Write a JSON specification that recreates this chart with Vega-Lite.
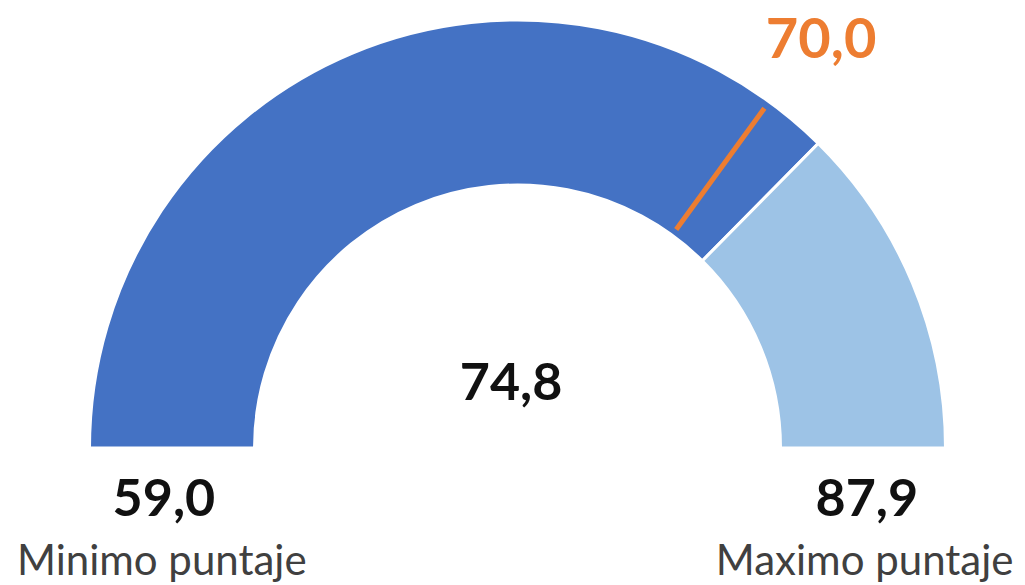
{
  "$schema": "https://vega.github.io/schema/vega-lite/v6.json",
  "width": 1015,
  "height": 274,
  "padding": {"left": 10, "top": 311, "right": 0, "bottom": 0},
  "autosize": {"type": "none"},
  "background": "white",
  "config": {"view": {"stroke": null}},
  "datasets": {
    "segmentos": [
      {"seg": "valor", "inicio": 0, "fin": 74.8},
      {"seg": "resto", "inicio": 74.8, "fin": 100}
    ],
    "meta": [{"v": 70}],
    "textos": [
      {"label": "70,0", "x": 0.711, "y": 0.913, "tipo": "meta"},
      {"label": "74,8", "x": -0.015, "y": 0.112, "tipo": "valor"},
      {"label": "59,0", "x": -0.828, "y": -0.159, "tipo": "valor"},
      {"label": "87,9", "x": 0.818, "y": -0.159, "tipo": "valor"},
      {"label": "Minimo puntaje", "x": -0.833, "y": -0.298, "tipo": "etiqueta"},
      {"label": "Maximo puntaje", "x": 0.813, "y": -0.298, "tipo": "etiqueta"}
    ]
  },
  "layer": [
    {
      "data": {"name": "segmentos"},
      "mark": {"type": "arc", "radius": 428, "radius2": 263, "stroke": "white", "strokeWidth": 3},
      "encoding": {
        "theta": {"field": "inicio", "type": "quantitative", "stack": null, "scale": {"domain": [0, 100], "range": [-1.5708, 1.5708]}},
        "theta2": {"field": "fin"},
        "color": {"field": "seg", "type": "nominal", "scale": {"domain": ["valor", "resto"], "range": ["#4472C4", "#9DC3E6"]}, "legend": null}
      }
    },
    {
      "data": {"name": "meta"},
      "mark": {"type": "arc", "radius": 420, "radius2": 270, "stroke": "#ED7D31", "strokeWidth": 5, "fill": "#ED7D31"},
      "encoding": {
        "theta": {"field": "v", "type": "quantitative", "stack": null, "scale": {"domain": [0, 100], "range": [-1.5708, 1.5708]}},
        "theta2": {"field": "v"}
      }
    },
    {
      "data": {"name": "textos"},
      "transform": [{"filter": "datum.tipo === 'meta'"}],
      "mark": {"type": "text", "font": "Lato", "fontWeight": "bold", "fontSize": 56, "color": "#ED7D31", "baseline": "alphabetic", "align": "center"},
      "encoding": {
        "x": {"field": "x", "type": "quantitative", "scale": {"domain": [-1.1885, 1.1885]}, "axis": null},
        "y": {"field": "y", "type": "quantitative", "scale": {"domain": [-0.3208, 0.3208]}, "axis": null},
        "text": {"field": "label"}
      }
    },
    {
      "data": {"name": "textos"},
      "transform": [{"filter": "datum.tipo === 'valor'"}],
      "mark": {"type": "text", "font": "Lato", "fontWeight": "bold", "fontSize": 52, "color": "#111111", "baseline": "alphabetic", "align": "center"},
      "encoding": {
        "x": {"field": "x", "type": "quantitative", "scale": {"domain": [-1.1885, 1.1885]}, "axis": null},
        "y": {"field": "y", "type": "quantitative", "scale": {"domain": [-0.3208, 0.3208]}, "axis": null},
        "text": {"field": "label"}
      }
    },
    {
      "data": {"name": "textos"},
      "transform": [{"filter": "datum.tipo === 'etiqueta'"}],
      "mark": {"type": "text", "font": "Lato", "fontSize": 42, "color": "#404040", "baseline": "alphabetic", "align": "center"},
      "encoding": {
        "x": {"field": "x", "type": "quantitative", "scale": {"domain": [-1.1885, 1.1885]}, "axis": null},
        "y": {"field": "y", "type": "quantitative", "scale": {"domain": [-0.3208, 0.3208]}, "axis": null},
        "text": {"field": "label"}
      }
    }
  ]
}
